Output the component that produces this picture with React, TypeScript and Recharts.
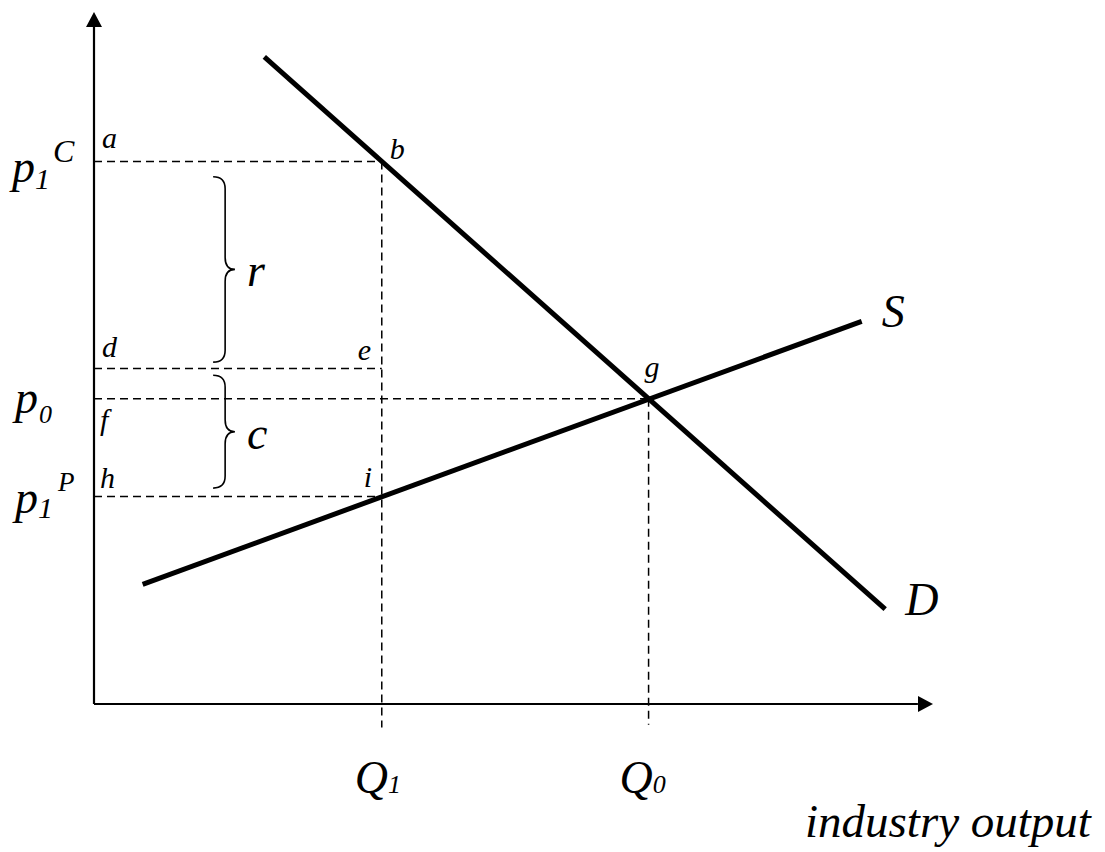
import React from 'react';
import {
  LineChart,
  Line,
  XAxis,
  YAxis,
  ReferenceLine,
  ReferenceDot,
  ReferenceArea,
} from 'recharts';

// ---- data (quantity on x, price on y; both on a 0..100 scale) ----
const demandQ = [20.3, 94.3];
const demandP = [93.5, 13.7];
const supplyQ = [5.8, 91.5];
const supplyP = [17.3, 55.3];

const Q1 = 34.3;
const Q0 = 66.1;
const p1C = 78.4;
const pD = 48.5;
const p0 = 44.1;
const p1P = 30.0;
const belowAxis = [-3.4, -3.0]; // where the Q1 / Q0 guide lines stop
const braceRRange = [49.4, 76.2];
const braceCRange = [31.2, 47.5];
const braceQRange = [14.2, 16.8];
const domainMax = 100;
const arrowBase = [98.2, 98.0]; // where the axis lines meet the arrowheads (x, y)

const demandData = demandQ.map((q, i) => ({ q, p: demandP[i] }));
const supplyData = supplyQ.map((q, i) => ({ q, p: supplyP[i] }));

const FONT = "'Liberation Serif', 'Times New Roman', 'DejaVu Serif', serif";

const textProps = (size: number) => ({
  fontFamily: FONT,
  fontStyle: 'italic',
  fontSize: size,
  fill: '#000',
});

const textShape =
  (dx: number, dy: number, size: number, content: React.ReactNode) =>
  (props: any) =>
    (
      <text x={props.cx + dx} y={props.cy + dy} {...textProps(size)}>
        {content}
      </text>
    );

const braceShape = (letter: string) => (props: any) => {
  const { x, y, width, height } = props;
  const x0 = x;
  const x1 = x + width * 0.55;
  const x2 = x + width;
  const top = y;
  const bot = y + height;
  const mid = y + height / 2;
  const r = 12;
  const d = `M${x0},${top} Q${x1},${top} ${x1},${top + r} L${x1},${mid - r} Q${x1},${mid} ${x2},${mid} Q${x1},${mid} ${x1},${mid + r} L${x1},${bot - r} Q${x1},${bot} ${x0},${bot}`;
  return (
    <g>
      <path d={d} fill="none" stroke="#000" strokeWidth={1.6} />
      <text x={x2 + 12} y={mid + 17} {...textProps(46)}>
        {letter}
      </text>
    </g>
  );
};

const dash = { stroke: '#000', strokeWidth: 1.5, strokeDasharray: '8 5' };
const solidAxis = { stroke: '#000', strokeWidth: 2.2 };

export default function App() {
  return (
    <div style={{ position: 'absolute', left: 0, top: 0, background: '#fff' }}>
      <LineChart
        width={1105}
        height={852}
        margin={{ top: 12, right: 172, bottom: 148, left: 94 }}
      >
        <XAxis
          type="number"
          dataKey="q"
          domain={[0, domainMax]}
          allowDataOverflow
          tick={false}
          tickLine={false}
          axisLine={false}
          height={0}
        />
        <YAxis
          type="number"
          dataKey="p"
          domain={[0, domainMax]}
          allowDataOverflow
          tick={false}
          tickLine={false}
          axisLine={false}
          width={0}
        />

        {/* axes */}
        <ReferenceLine segment={[{ x: 0, y: 0 }, { x: arrowBase[0], y: 0 }]} {...solidAxis} ifOverflow="visible" />
        <ReferenceLine segment={[{ x: 0, y: 0 }, { x: 0, y: arrowBase[1] }]} {...solidAxis} ifOverflow="visible" />

        {/* dashed guide lines */}
        <ReferenceLine segment={[{ x: 0, y: p1C }, { x: Q1, y: p1C }]} {...dash} ifOverflow="visible" />
        <ReferenceLine segment={[{ x: 0, y: pD }, { x: Q1, y: pD }]} {...dash} ifOverflow="visible" />
        <ReferenceLine segment={[{ x: 0, y: p0 }, { x: Q0, y: p0 }]} {...dash} ifOverflow="visible" />
        <ReferenceLine segment={[{ x: 0, y: p1P }, { x: Q1, y: p1P }]} {...dash} ifOverflow="visible" />
        <ReferenceLine segment={[{ x: Q1, y: p1C }, { x: Q1, y: belowAxis[0] }]} {...dash} ifOverflow="visible" />
        <ReferenceLine segment={[{ x: Q0, y: p0 }, { x: Q0, y: belowAxis[1] }]} {...dash} ifOverflow="visible" />

        {/* braces */}
        <ReferenceArea
          x1={braceQRange[0]}
          x2={braceQRange[1]}
          y1={braceRRange[0]}
          y2={braceRRange[1]}
          shape={braceShape('r')}
          ifOverflow="visible"
        />
        <ReferenceArea
          x1={braceQRange[0]}
          x2={braceQRange[1]}
          y1={braceCRange[0]}
          y2={braceCRange[1]}
          shape={braceShape('c')}
          ifOverflow="visible"
        />

        {/* demand & supply */}
        <Line
          data={demandData}
          dataKey="p"
          stroke="#000"
          strokeWidth={5}
          dot={false}
          activeDot={false}
          isAnimationActive={false}
          strokeLinecap="butt"
        />
        <Line
          data={supplyData}
          dataKey="p"
          stroke="#000"
          strokeWidth={5}
          dot={false}
          activeDot={false}
          isAnimationActive={false}
          strokeLinecap="butt"
        />

        {/* axis arrowheads */}
        <ReferenceDot
          x={domainMax}
          y={0}
          ifOverflow="visible"
          shape={(p: any) => (
            <polygon
              points={`${p.cx},${p.cy} ${p.cx - 15},${p.cy - 8} ${p.cx - 15},${p.cy + 8}`}
              fill="#000"
            />
          )}
        />
        <ReferenceDot
          x={0}
          y={domainMax}
          ifOverflow="visible"
          shape={(p: any) => (
            <polygon
              points={`${p.cx},${p.cy} ${p.cx - 8},${p.cy + 15} ${p.cx + 8},${p.cy + 15}`}
              fill="#000"
            />
          )}
        />

        {/* point letters */}
        <ReferenceDot x={0} y={p1C} ifOverflow="visible" shape={textShape(8, -13, 30, 'a')} />
        <ReferenceDot x={Q1} y={p1C} ifOverflow="visible" shape={textShape(8, -2, 30, 'b')} />
        <ReferenceDot x={0} y={pD} ifOverflow="visible" shape={textShape(8, -11, 30, 'd')} />
        <ReferenceDot x={Q1} y={pD} ifOverflow="visible" shape={textShape(-24, -8, 30, 'e')} />
        <ReferenceDot x={0} y={p0} ifOverflow="visible" shape={textShape(6, 31, 30, 'f')} />
        <ReferenceDot x={Q0} y={p0} ifOverflow="visible" shape={textShape(-4, -22, 30, 'g')} />
        <ReferenceDot x={0} y={p1P} ifOverflow="visible" shape={textShape(6, -8, 30, 'h')} />
        <ReferenceDot x={Q1} y={p1P} ifOverflow="visible" shape={textShape(-18, -9, 30, 'i')} />

        {/* curve labels */}
        <ReferenceDot x={supplyQ[1]} y={supplyP[1]} ifOverflow="visible" shape={textShape(20, 6, 46, 'S')} />
        <ReferenceDot x={demandQ[1]} y={demandP[1]} ifOverflow="visible" shape={textShape(20, 6, 46, 'D')} />

        {/* price labels */}
        <ReferenceDot
          x={0}
          y={p1C}
          ifOverflow="visible"
          shape={textShape(
            -82,
            21,
            46,
            <>
              <tspan>p</tspan>
              <tspan fontSize={30} dy={7}>1</tspan>
              <tspan fontSize={32} dx={3} dy={-27}>C</tspan>
            </>
          )}
        />
        <ReferenceDot
          x={0}
          y={p0}
          ifOverflow="visible"
          shape={textShape(
            -79,
            14,
            46,
            <>
              <tspan>p</tspan>
              <tspan fontSize={26} dx={1} dy={10}>0</tspan>
            </>
          )}
        />
        <ReferenceDot
          x={0}
          y={p1P}
          ifOverflow="visible"
          shape={textShape(
            -79,
            17,
            46,
            <>
              <tspan>p</tspan>
              <tspan fontSize={30} dy={5}>1</tspan>
              <tspan fontSize={27} dx={5} dy={-27}>P</tspan>
            </>
          )}
        />

        {/* quantity labels */}
        <ReferenceDot
          x={Q1}
          y={0}
          ifOverflow="visible"
          shape={textShape(
            -27,
            89,
            46,
            <>
              <tspan>Q</tspan>
              <tspan fontSize={26}>1</tspan>
            </>
          )}
        />
        <ReferenceDot
          x={Q0}
          y={0}
          ifOverflow="visible"
          shape={textShape(
            -29,
            89,
            46,
            <>
              <tspan>Q</tspan>
              <tspan fontSize={26}>0</tspan>
            </>
          )}
        />
        <ReferenceDot
          x={domainMax}
          y={0}
          ifOverflow="visible"
          shape={textShape(-128, 133, 47, 'industry output')}
        />
      </LineChart>
    </div>
  );
}
